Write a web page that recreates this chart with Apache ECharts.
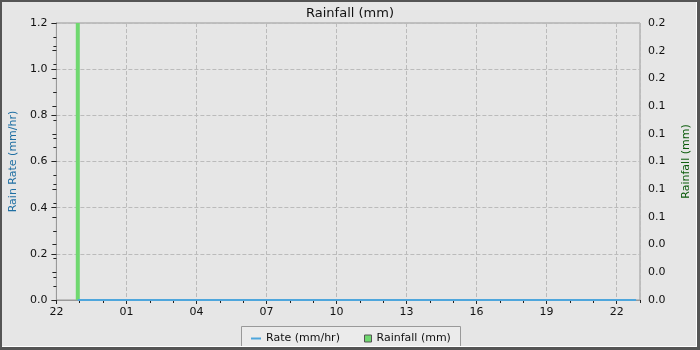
<!DOCTYPE html>
<html>
<head>
<meta charset="utf-8">
<script src="https://cdn.jsdelivr.net/npm/echarts@6/dist/echarts.min.js"></script>
<style>
html,body{margin:0;padding:0;background:#e6e6e6;}
#wrap{position:relative;width:700px;height:350px;}
#chart{width:700px;height:350px;}
#frame{position:absolute;left:0;top:0;width:700px;height:350px;box-sizing:border-box;border-style:solid;border-color:#555;border-width:2px 3px 3px 2px;pointer-events:none;}
#frame2{position:absolute;left:0;top:0;width:100%;height:100%;box-sizing:border-box;border-right:1px solid #fff;border-bottom:1px solid #fff;}
</style>
</head>
<body>
<div id="wrap"><div id="chart"></div><div id="frame"><div id="frame2"></div></div></div>
<script>
// ---- data ----
const axisStartHour = 22;              // x axis starts at 22:00 on day 0
const axisSpanHours = 25;              // ends at 23:00 on day 1
const xTickHours = 3;
const rateTimes = ['0 22:55', '1 22:50'];   // day index + time
const rateValues = [0, 0];
const rainTimes = ['0 22:55'];
const rainValues = [0.2];
const rateMax = 1.2, rateStep = 0.2;
const rainMax = 0.2, rainStep = 0.02;
const titleText = 'Rainfall (mm)';
const rateName = 'Rate (mm/hr)';
const rainName = 'Rainfall (mm)';
const leftAxisName = 'Rain Rate (mm/hr)';
const rightAxisName = 'Rainfall (mm)';

function toOffset(s) {
  const [d, t] = s.split(' ');
  const [h, m] = t.split(':').map(Number);
  return Number(d) * 24 + h + m / 60 - axisStartHour;
}
const rateData = rateTimes.map((t, i) => [toOffset(t), rateValues[i]]);
const rainData = rainTimes.map((t, i) => [toOffset(t), rainValues[i]]);

const FONT = 'DejaVu Sans';
const chart = echarts.init(document.getElementById('chart'), null, {renderer: 'canvas'});
chart.setOption({
  backgroundColor: '#e6e6e6',
  animation: false,
  textStyle: {fontFamily: FONT},
  title: {
    text: titleText, left: 'center', top: 2,
    textStyle: {fontSize: 13, fontWeight: 'normal', color: '#111', fontFamily: FONT}
  },
  grid: {left: 55, right: 60, top: 23, bottom: 50, show: true, borderColor: '#999', borderWidth: 1, backgroundColor: 'transparent'},
  graphic: [{
    type: 'rect', z: 3, shape: {x: 241.5, y: 326.5, width: 219, height: 22},
    style: {fill: '#ebebeb', stroke: '#999', lineWidth: 1}
  }],
  legend: [{
    data: [{name: rateName, icon: 'rect'}],
    left: 246, top: 328, itemWidth: 10, itemHeight: 2, z: 5,
    textStyle: {fontSize: 11, color: '#111', fontFamily: FONT}
  }, {
    data: [{name: rainName, icon: 'rect', itemStyle: {borderColor: '#555', borderWidth: 1}}],
    left: 359, top: 328, itemWidth: 7, itemHeight: 7, z: 5,
    textStyle: {fontSize: 11, color: '#111', fontFamily: FONT}
  }],
  xAxis: [{
    type: 'value', min: 0, max: axisSpanHours, interval: xTickHours, position: 'bottom',
    axisLine: {lineStyle: {color: '#999'}},
    axisTick: {length: 4, lineStyle: {color: '#222'}},
    axisLabel: {
      color: '#111', fontSize: 11, margin: 7, fontFamily: FONT, showMaxLabel: false,
      formatter: v => String((axisStartHour + Math.round(v)) % 24).padStart(2, '0')
    },
    splitLine: {show: true, lineStyle: {type: 'dashed', color: '#bbb'}}
  }, {
    type: 'value', min: 0, max: axisSpanHours, interval: 1, position: 'bottom',
    axisLine: {show: false},
    axisTick: {length: 3, lineStyle: {color: '#222'}},
    axisLabel: {show: false},
    splitLine: {show: false}
  }],
  yAxis: [{
    type: 'value', min: 0, max: rateMax, interval: rateStep, position: 'left',
    name: leftAxisName, nameLocation: 'middle', nameGap: 36, nameRotate: 90,
    nameTextStyle: {color: '#1f6fa3', fontSize: 11, fontFamily: FONT},
    axisLine: {show: true, lineStyle: {color: '#999'}},
    axisTick: {show: true, length: 5, lineStyle: {color: '#222'}},
    minorTick: {show: true, splitNumber: 2, length: 3, lineStyle: {color: '#222'}},
    axisLabel: {color: '#111', fontSize: 11, margin: 9, fontFamily: FONT, formatter: v => v.toFixed(1)},
    splitLine: {show: true, lineStyle: {type: 'dashed', color: '#bbb'}}
  }, {
    type: 'value', min: 0, max: rainMax, interval: rainStep, position: 'right',
    name: rightAxisName, nameLocation: 'middle', nameGap: 41, nameRotate: 90,
    nameTextStyle: {color: '#0b5b0b', fontSize: 11, fontFamily: FONT},
    axisLine: {show: true, lineStyle: {color: '#999'}},
    axisTick: {show: true, inside: true, length: 4, lineStyle: {color: '#222'}},
    minorTick: {show: true, splitNumber: 2, length: 3, lineStyle: {color: '#222'}},
    axisLabel: {color: '#111', fontSize: 11, margin: 8, fontFamily: FONT, formatter: v => v.toFixed(1)},
    splitLine: {show: false}
  }],
  series: [{
    name: rainName, type: 'bar', xAxisIndex: 0, yAxisIndex: 1,
    data: rainData, barWidth: 4,
    itemStyle: {color: '#6fd86f'}, z: 2
  }, {
    name: rateName, type: 'line', xAxisIndex: 0, yAxisIndex: 0,
    data: rateData, showSymbol: false, symbol: 'none', clip: false,
    lineStyle: {color: '#4ea6dc', width: 2}, itemStyle: {color: '#4ea6dc'}, z: 3
  }]
});
</script>
</body>
</html>
